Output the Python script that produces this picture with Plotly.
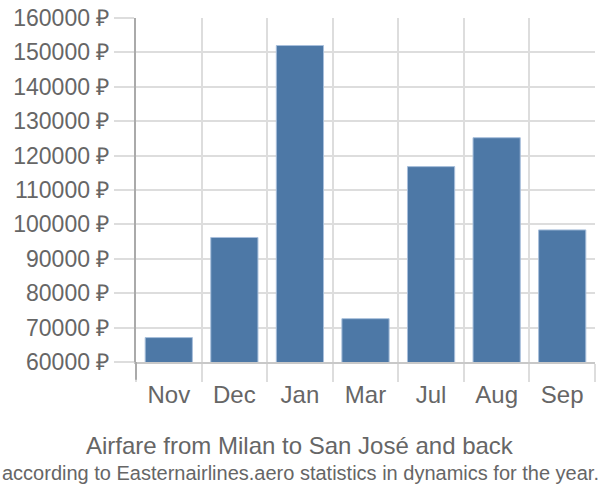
import plotly.graph_objects as go

months = ["Nov", "Dec", "Jan", "Mar", "Jul", "Aug", "Sep"]
prices = [67100, 96200, 152000, 72600, 116800, 125200, 98400]
y_ticks = [60000, 70000, 80000, 90000, 100000, 110000, 120000, 130000, 140000, 150000, 160000]
y_tick_labels = [f"{v} ₽" for v in y_ticks]

title = "Airfare from Milan to San José and back"
subtitle = "according to Easternairlines.aero statistics in dynamics for the year."

fig = go.Figure(go.Bar(
    x=months, y=prices,
    marker=dict(color="#4d78a6", line=dict(color="#a8bfdb", width=1)),
    hoverinfo="x+y",
))

font_family = "Liberation Sans, Arial, sans-serif"
L, R, T, B = 136, 5, 14, 138
PW, PH = 600 - L - R, 500 - T - B

fig.update_layout(
    width=600, height=500,
    margin=dict(l=L, r=R, t=T, b=B),
    plot_bgcolor="white", paper_bgcolor="white",
    bargap=0.28,
    showlegend=False,
    font=dict(family=font_family, color="#666666"),
    xaxis=dict(
        type="category", tickson="boundaries", ticks="outside", ticklen=18,
        tickcolor="#dddddd", tickwidth=2, showgrid=True, gridcolor="#dddddd", gridwidth=2,
        showline=True, linecolor="#c8c8c8", linewidth=2,
        tickfont=dict(size=24, color="#666666"), ticklabelstandoff=10,
    ),
    yaxis=dict(
        range=[60000, 160000], tickmode="array", tickvals=y_ticks, ticktext=y_tick_labels,
        ticks="outside", ticklen=20, tickcolor="#dddddd", tickwidth=2,
        showgrid=True, gridcolor="#dddddd", gridwidth=2, zeroline=False,
        showline=True, linecolor="#aaaaaa", linewidth=2,
        tickfont=dict(size=23, color="#666666"),
    ),
    shapes=[dict(type="line", xref="paper", yref="paper", x0=0, x1=0, y0=0, y1=-18 / PH,
                 line=dict(color="#aaaaaa", width=2))],
    annotations=[
        dict(text=title, xref="paper", yref="paper", x=(300 - L) / PW, y=-(446 - (500 - B)) / PH,
             xanchor="center", yanchor="middle", showarrow=False,
             font=dict(size=24, color="#666666")),
        dict(text=subtitle, xref="paper", yref="paper", x=(300 - L) / PW, y=-(474 - (500 - B)) / PH,
             xanchor="center", yanchor="middle", showarrow=False,
             font=dict(size=20, color="#666666")),
    ],
)

fig.write_html("out.html", config={"displayModeBar": False},
               post_script="document.body.style.margin='0';")
